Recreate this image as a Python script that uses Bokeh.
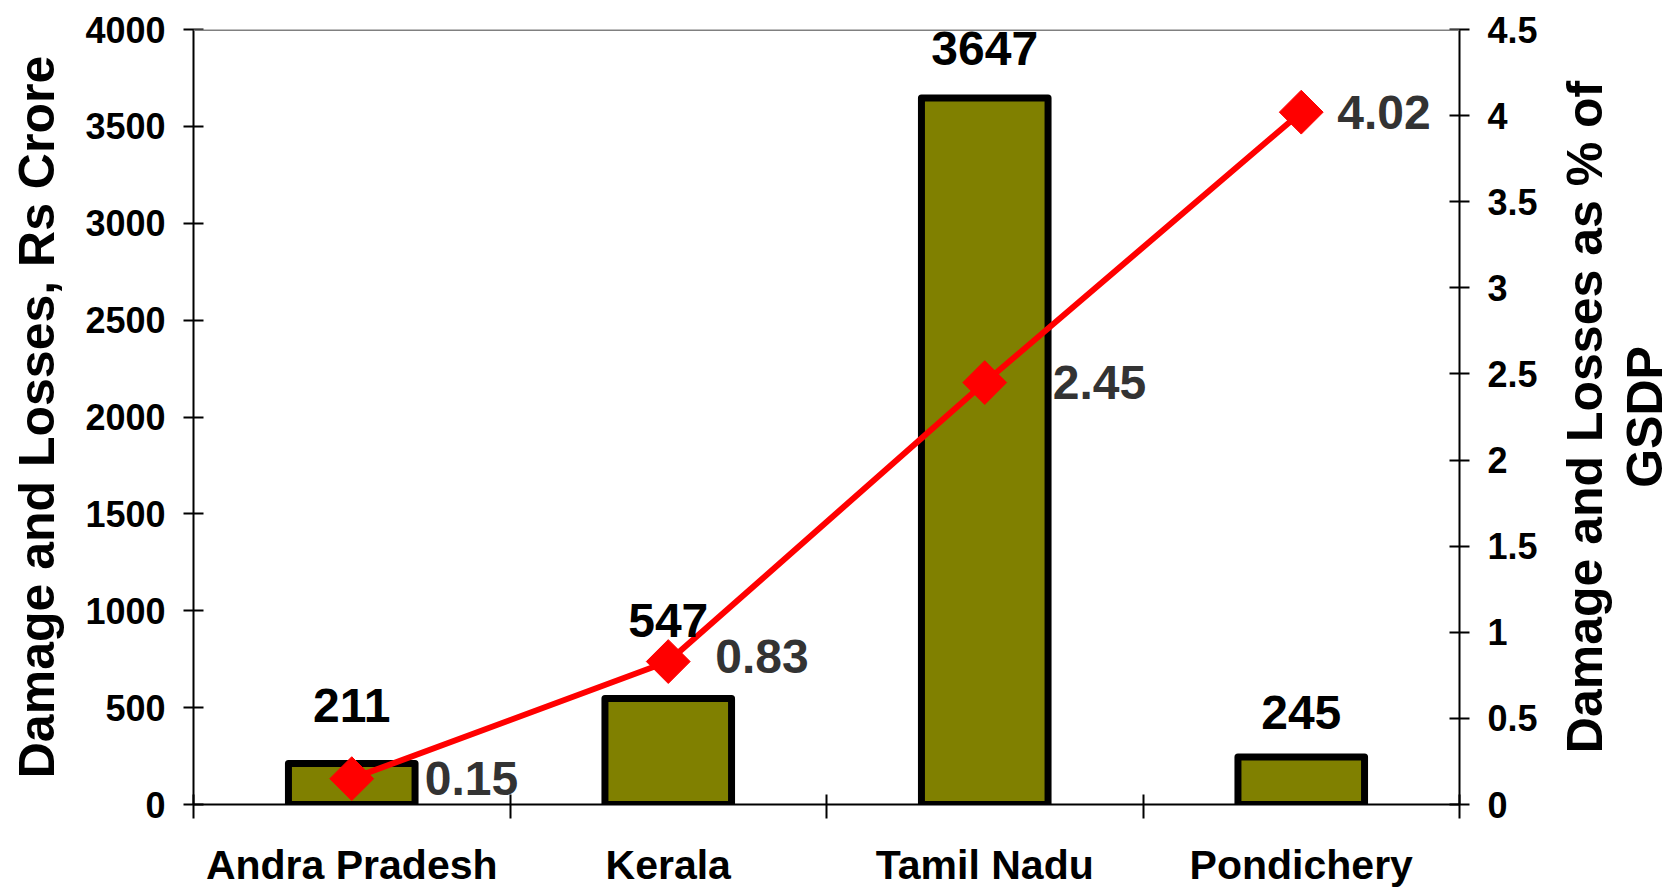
import math
from bokeh.plotting import figure
from bokeh.layouts import row
from bokeh.models import Range1d, LinearAxis, FixedTicker, ColumnDataSource, Span, Label
from bokeh.core.properties import value
from bokeh.embed import file_html
from bokeh.resources import INLINE

# ---- data ----
categories = ["Andra Pradesh", "Kerala", "Tamil Nadu", "Pondichery"]
damage_crore = [211, 547, 3647, 245]
pct_gsdp = [0.15, 0.83, 2.45, 4.02]
left_ticks = [0, 500, 1000, 1500, 2000, 2500, 3000, 3500, 4000]
right_ticks = [0, 0.5, 1, 1.5, 2, 2.5, 3, 3.5, 4, 4.5]
right_tick_labels = ["0", "0.5", "1", "1.5", "2", "2.5", "3", "3.5", "4", "4.5"]
left_title = "Damage and Losses, Rs Crore"
right_title_lines = ["Damage and Losses as % of", "GSDP"]

# ---- label placement (pixels, not data) ----
bar_label_dy = [58, 78, 49, 45]
pct_label_dx = [73, 47, 68, 36]
pct_label_dy = [0, -5, 0, 0]

FONT = "Liberation Sans"
OLIVE = "#808000"
RED = "#FF0000"

TOTAL_W, TOTAL_H = 1674, 890
MAIN_W = 1545
TITLE_W = TOTAL_W - MAIN_W

n = len(categories)
centers = [i + 0.5 for i in range(n)]
bounds = [float(i) for i in range(n + 1)]
right_max = right_ticks[-1]

src = ColumnDataSource(dict(
    x=centers,
    dmg=damage_crore,
    pct=pct_gsdp,
    dmg_txt=[str(v) for v in damage_crore],
    pct_txt=["%.2f" % v for v in pct_gsdp],
    bar_dy=[-d for d in bar_label_dy],
    pct_dx=pct_label_dx,
    pct_dy=pct_label_dy,
))

right_range = Range1d(0, right_max)

p = figure(width=MAIN_W, height=TOTAL_H, output_backend="svg", toolbar_location=None,
           x_range=Range1d(0, n), y_range=Range1d(0, left_ticks[-1]),
           min_border_left=193, min_border_right=86, min_border_top=29, min_border_bottom=85)
p.outline_line_color = None
p.background_fill_color = "white"
p.border_fill_color = "white"
p.extra_y_ranges = {"right": right_range}

p.xgrid.visible = False
p.ygrid.visible = False
p.add_layout(Span(location=left_ticks[-1], dimension="width",
                  line_color="#808080", line_width=3))

# bars
p.vbar(x="x", top="dmg", width=0.4, source=src, fill_color=OLIVE,
       line_color="black", line_width=7, line_join="round")

# line + markers
p.line(x="x", y="pct", source=src, y_range_name="right", line_color=RED, line_width=6)
p.scatter(x="x", y="pct", source=src, y_range_name="right", marker="square",
          size=31, angle=math.pi / 4, fill_color=RED, line_color=RED)

# value labels
p.text(x="x", y="dmg", text="dmg_txt", source=src, y_offset="bar_dy",
       text_align="center", text_baseline="middle", text_color="black",
       text_font=value(FONT), text_font_style="bold", text_font_size=value("48px"))
p.text(x="x", y="pct", text="pct_txt", source=src, y_range_name="right",
       x_offset="pct_dx", y_offset="pct_dy",
       text_align="left", text_baseline="middle", text_color="#333333",
       text_font=value(FONT), text_font_style="bold", text_font_size=value("48px"))

# x axis
xa = p.xaxis[0]
xa.ticker = FixedTicker(ticks=centers, minor_ticks=bounds)
xa.major_label_overrides = {c: name for c, name in zip(centers, categories)}
xa.major_tick_line_color = None
xa.major_tick_in = 0
xa.major_tick_out = 0
xa.minor_tick_line_color = "black"
xa.minor_tick_line_width = 2
xa.minor_tick_in = 10
xa.minor_tick_out = 14
xa.axis_line_color = "black"
xa.axis_line_width = 2
xa.major_label_standoff = 23
xa.major_label_text_font = FONT
xa.major_label_text_font_style = "bold"
xa.major_label_text_font_size = "41px"
xa.major_label_text_color = "black"

# left axis
ya = p.yaxis[0]
ya.ticker = FixedTicker(ticks=left_ticks)
ya.axis_label = left_title
ya.axis_label_standoff = 17
ya.axis_label_text_font = FONT
ya.axis_label_text_font_style = "bold"
ya.axis_label_text_font_size = "50px"
ya.axis_label_text_color = "black"

# right axis
ra = LinearAxis(y_range_name="right", ticker=FixedTicker(ticks=right_ticks),
                major_label_overrides=dict(zip(right_ticks, right_tick_labels)))
p.add_layout(ra, "right")

for ax in (ya, ra):
    ax.axis_line_color = "black"
    ax.axis_line_width = 2
    ax.major_tick_line_color = "black"
    ax.major_tick_line_width = 2
    ax.major_tick_in = 10
    ax.major_tick_out = 10
    ax.minor_tick_line_color = None
    ax.minor_tick_in = 0
    ax.minor_tick_out = 0
    ax.major_label_standoff = 18
    ax.major_label_text_font = FONT
    ax.major_label_text_font_style = "bold"
    ax.major_label_text_font_size = "36px"
    ax.major_label_text_color = "black"

# right-axis title: a narrow companion panel with two rotated lines (bottom-to-top),
# vertically centred on the shared right-axis range
t = figure(width=TITLE_W, height=TOTAL_H, output_backend="svg", toolbar_location=None,
           x_axis_location=None, y_axis_location=None,
           x_range=Range1d(0, 1), y_range=right_range,
           min_border_left=0, min_border_right=0, min_border_top=0, min_border_bottom=0)
t.outline_line_color = None
t.background_fill_color = "white"
t.border_fill_color = "white"
t.xgrid.visible = False
t.ygrid.visible = False
mid = right_max / 2
for txt, sx in zip(right_title_lines, (1584 - MAIN_W, 1644 - MAIN_W)):
    t.add_layout(Label(x=sx, y=mid, x_units="screen", y_units="data", text=txt,
                       angle=math.pi / 2, text_align="center", text_baseline="middle",
                       text_font=FONT, text_font_style="bold", text_font_size="50px",
                       text_color="black"))

layout = row(p, t)
open("out.html", "w").write(file_html(layout, INLINE))
